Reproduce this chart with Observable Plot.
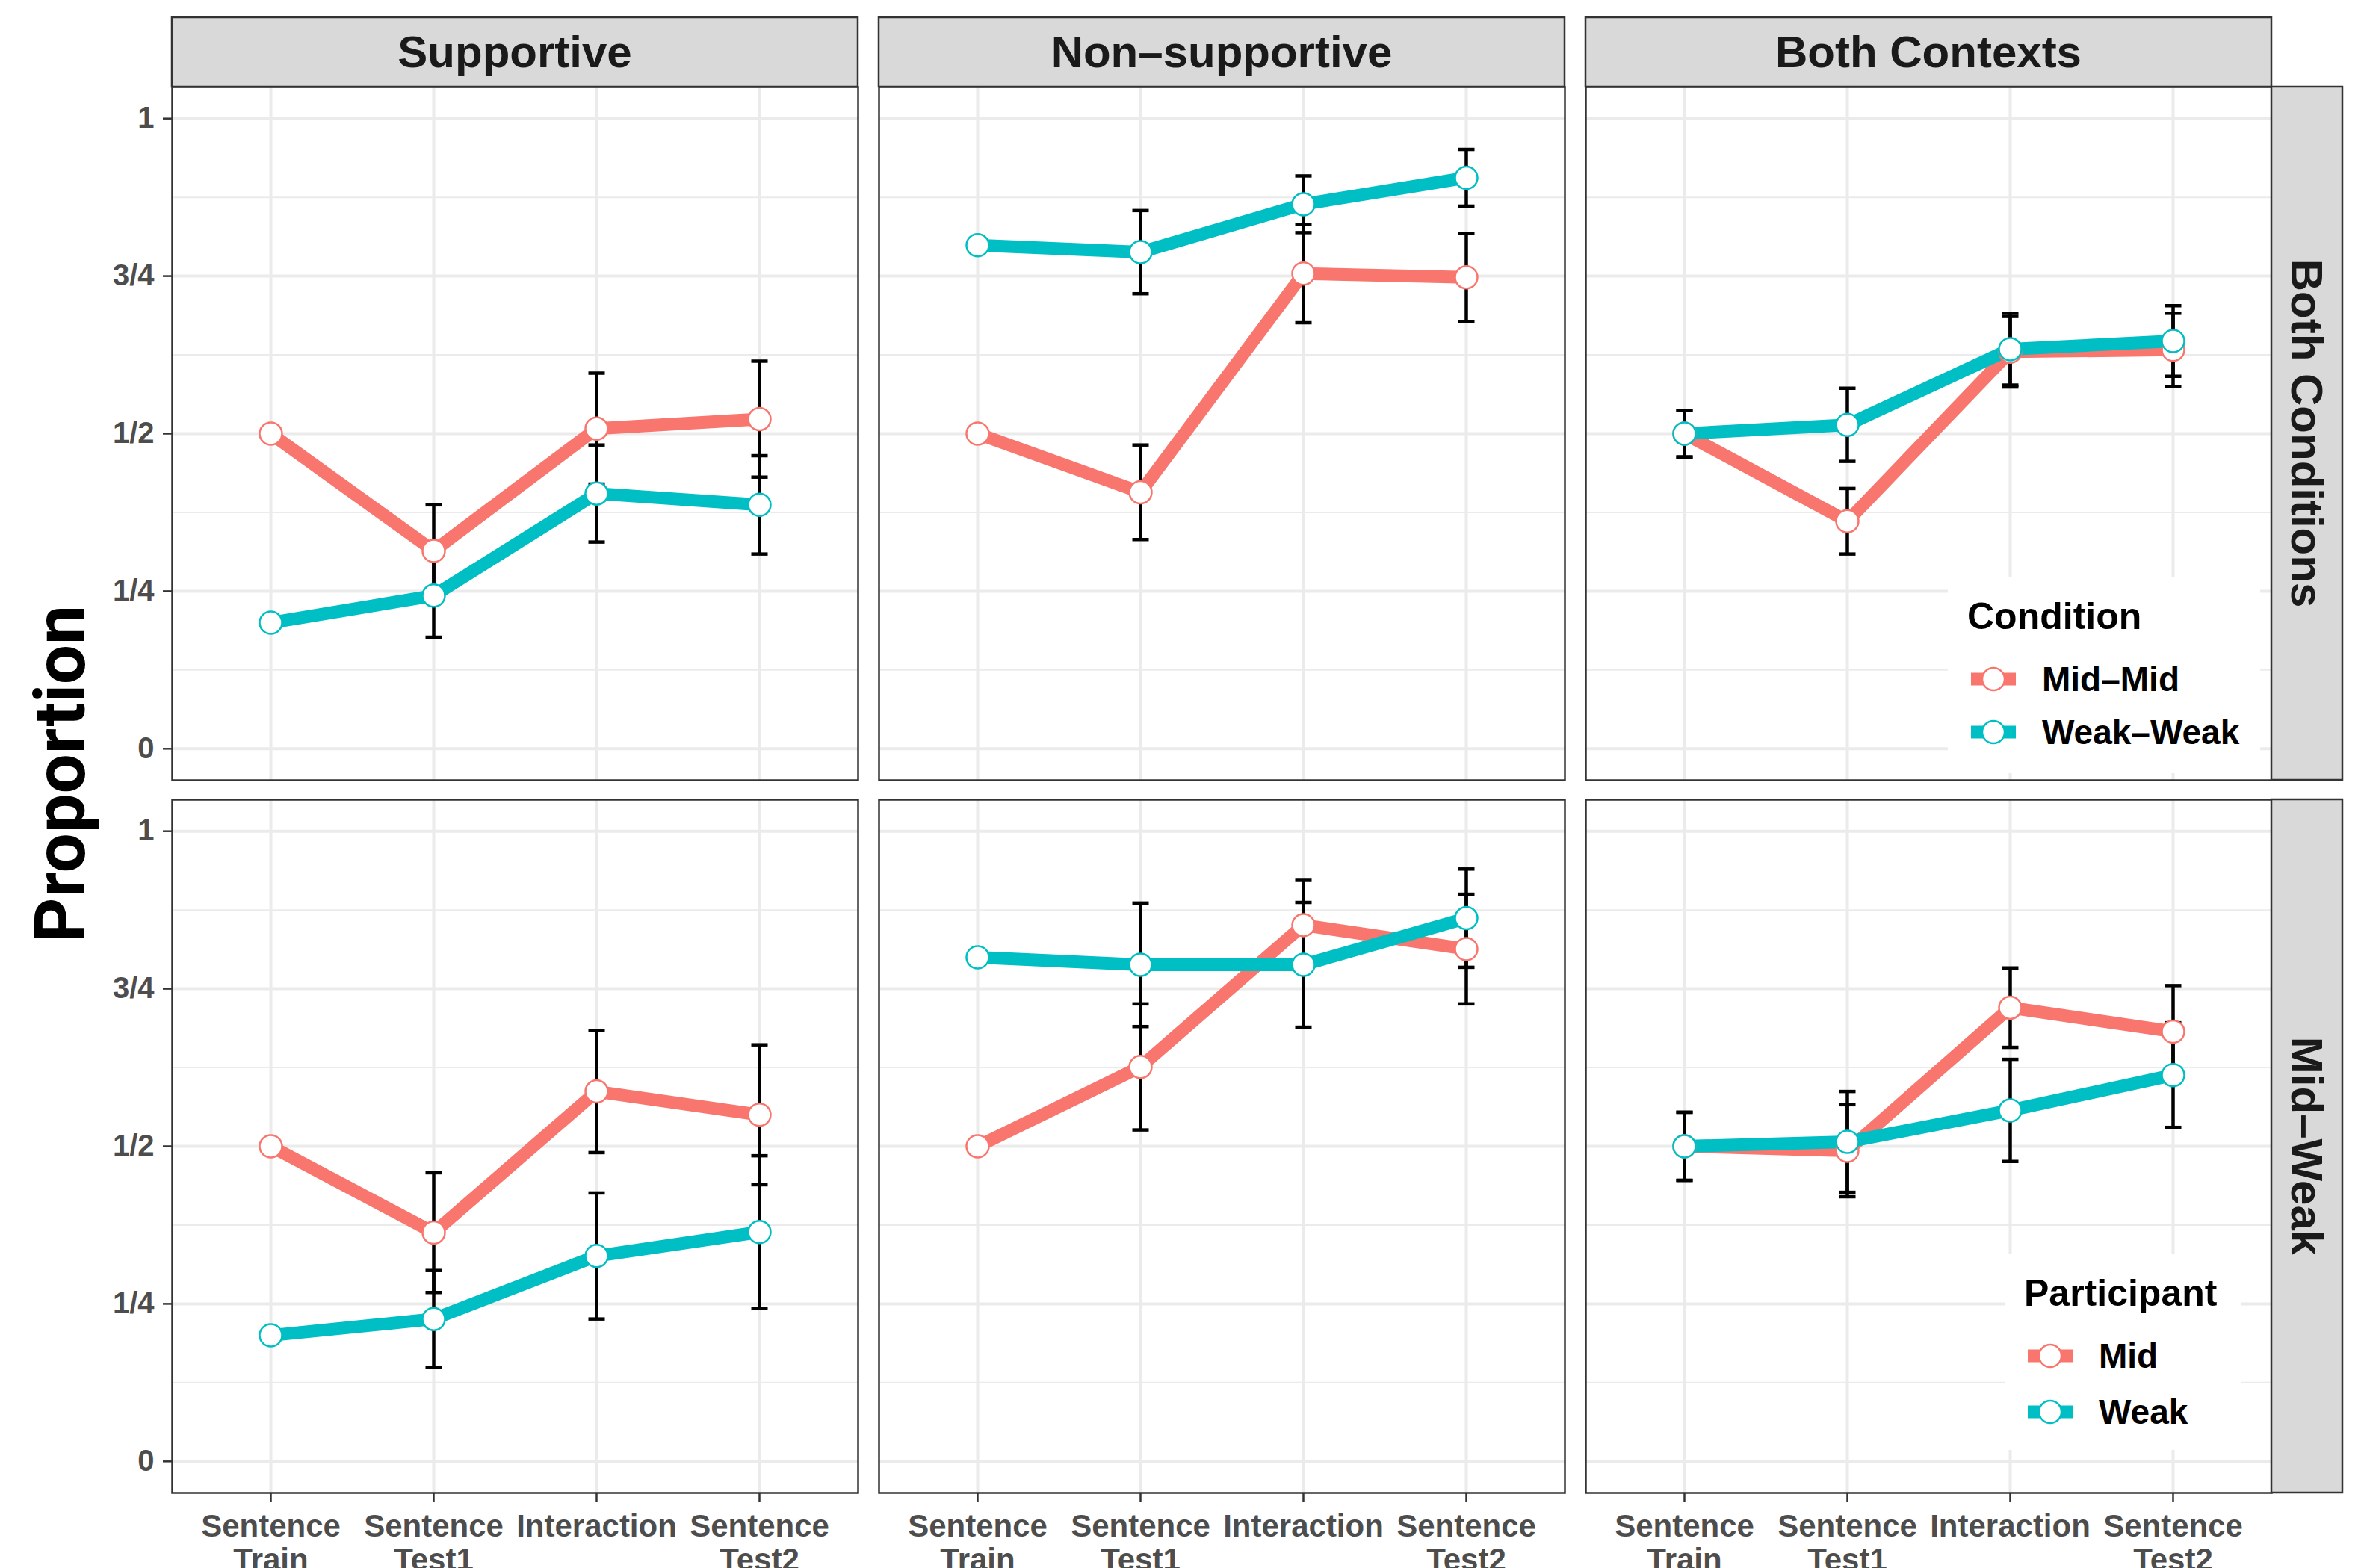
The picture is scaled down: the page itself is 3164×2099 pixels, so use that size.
<!DOCTYPE html>
<html>
<head>
<meta charset="utf-8">
<script src="https://cdn.jsdelivr.net/npm/d3@7"></script>
<script src="https://cdn.jsdelivr.net/npm/@observablehq/plot@0.6"></script>
<style>
  html, body { margin: 0; padding: 0; background: #fff; }
  svg { display: block; }
</style>
</head>
<body>
<div id="chart"></div>
<script>
// ---------- categories, labels ----------
const categories = ["Sentence Train", "Sentence Test1", "Interaction", "Sentence Test2"];
const categoryLabels = ["Sentence\nTrain", "Sentence\nTest1", "Interaction", "Sentence\nTest2"];
const contexts = ["Supportive", "Non–supportive", "Both Contexts"];
const rows = ["Both Conditions", "Mid–Weak"];
const conditionSeries = ["Mid–Mid", "Weak–Weak"];
const participantSeries = ["Mid", "Weak"];
const yTickValues = [0, 0.25, 0.5, 0.75, 1];
const yTickLabels = ["0", "1/4", "1/2", "3/4", "1"];
const yMinorTicks = [0.125, 0.375, 0.625, 0.875];
const seriesColors = ["#F8766D", "#00BFC4"];

// ---------- values (row "Both Conditions") ----------
const bothCond_supportive_midMid = [0.5, 0.314, 0.508, 0.523];
const bothCond_supportive_midMid_err = [null, 0.073, 0.088, 0.092];
const bothCond_supportive_weakWeak = [0.2, 0.243, 0.405, 0.387];
const bothCond_supportive_weakWeak_err = [null, 0.066, 0.077, 0.078];

const bothCond_nonSupportive_midMid = [0.5, 0.407, 0.754, 0.748];
const bothCond_nonSupportive_midMid_err = [null, 0.075, 0.078, 0.070];
const bothCond_nonSupportive_weakWeak = [0.799, 0.788, 0.864, 0.906];
const bothCond_nonSupportive_weakWeak_err = [null, 0.066, 0.045, 0.045];

const bothCond_bothContexts_midMid = [0.5, 0.361, 0.630, 0.633];
const bothCond_bothContexts_midMid_err = [0.037, 0.052, 0.056, 0.058];
const bothCond_bothContexts_weakWeak = [0.5, 0.514, 0.634, 0.647];
const bothCond_bothContexts_weakWeak_err = [0.037, 0.058, 0.057, 0.056];

// ---------- values (row "Mid–Weak") ----------
const midWeak_supportive_mid = [0.5, 0.363, 0.587, 0.550];
const midWeak_supportive_mid_err = [null, 0.095, 0.097, 0.111];
const midWeak_supportive_weak = [0.2, 0.226, 0.326, 0.364];
const midWeak_supportive_weak_err = [null, 0.077, 0.100, 0.121];

const midWeak_nonSupportive_mid = [0.5, 0.626, 0.851, 0.813];
const midWeak_nonSupportive_mid_err = [null, 0.100, 0.071, 0.087];
const midWeak_nonSupportive_weak = [0.8, 0.788, 0.788, 0.862];
const midWeak_nonSupportive_weak_err = [null, 0.098, 0.099, 0.078];

const midWeak_bothContexts_mid = [0.5, 0.493, 0.720, 0.682];
const midWeak_bothContexts_mid_err = [0.054, 0.073, 0.063, 0.073];
const midWeak_bothContexts_weak = [0.5, 0.507, 0.557, 0.613];
const midWeak_bothContexts_weak_err = [0.054, 0.080, 0.081, 0.083];

// ---------- assemble table ----------
const panels = [
  [rows[0], contexts[0], conditionSeries[0], bothCond_supportive_midMid, bothCond_supportive_midMid_err],
  [rows[0], contexts[0], conditionSeries[1], bothCond_supportive_weakWeak, bothCond_supportive_weakWeak_err],
  [rows[0], contexts[1], conditionSeries[0], bothCond_nonSupportive_midMid, bothCond_nonSupportive_midMid_err],
  [rows[0], contexts[1], conditionSeries[1], bothCond_nonSupportive_weakWeak, bothCond_nonSupportive_weakWeak_err],
  [rows[0], contexts[2], conditionSeries[0], bothCond_bothContexts_midMid, bothCond_bothContexts_midMid_err],
  [rows[0], contexts[2], conditionSeries[1], bothCond_bothContexts_weakWeak, bothCond_bothContexts_weakWeak_err],
  [rows[1], contexts[0], participantSeries[0], midWeak_supportive_mid, midWeak_supportive_mid_err],
  [rows[1], contexts[0], participantSeries[1], midWeak_supportive_weak, midWeak_supportive_weak_err],
  [rows[1], contexts[1], participantSeries[0], midWeak_nonSupportive_mid, midWeak_nonSupportive_mid_err],
  [rows[1], contexts[1], participantSeries[1], midWeak_nonSupportive_weak, midWeak_nonSupportive_weak_err],
  [rows[1], contexts[2], participantSeries[0], midWeak_bothContexts_mid, midWeak_bothContexts_mid_err],
  [rows[1], contexts[2], participantSeries[1], midWeak_bothContexts_weak, midWeak_bothContexts_weak_err]
];

const data = [];
for (const [row, context, series, values, errs] of panels) {
  values.forEach((v, i) => {
    data.push({row, context, series, cat: categories[i], value: v, err: errs[i]});
  });
}
const errData = data.filter(d => d.err != null).map(d => ({...d, lo: d.value - d.err, hi: d.value + d.err}));

const capSymbol = { draw(ctx) { ctx.moveTo(-11, 0); ctx.lineTo(11, 0); } };

const FONT = "'Liberation Sans', Arial, Helvetica, sans-serif";
const grid = "#ebebeb";

const chart = Plot.plot({
  width: 3164,
  height: 2099,
  marginTop: 116,
  marginRight: 124,
  marginBottom: 101,
  marginLeft: 230,
  style: { fontFamily: FONT, background: "white", overflow: "hidden" },
  fx: { domain: contexts, axis: null, paddingInner: 28 / 946, paddingOuter: 0 },
  fy: { domain: rows, axis: null, paddingInner: 26 / 954, paddingOuter: 0 },
  x: { domain: categories, type: "point", padding: 0.6 },
  y: { domain: [-0.05, 1.05] },
  color: { domain: [...conditionSeries, ...participantSeries], range: [...seriesColors, ...seriesColors] },
  marks: [
    Plot.gridY(yMinorTicks, { stroke: grid, strokeOpacity: 1, strokeWidth: 2 }),
    Plot.gridY(yTickValues, { stroke: grid, strokeOpacity: 1, strokeWidth: 4 }),
    Plot.gridX(categories, { stroke: grid, strokeOpacity: 1, strokeWidth: 4 }),
    Plot.line(data, { fx: "context", fy: "row", x: "cat", y: "value", z: "series", stroke: "series", strokeWidth: 17, strokeLinejoin: "round" }),
    Plot.ruleX(errData, { fx: "context", fy: "row", x: "cat", y1: "lo", y2: "hi", stroke: "black", strokeWidth: 4.5 }),
    Plot.dot(errData, { fx: "context", fy: "row", x: "cat", y: "lo", symbol: capSymbol, fill: "none", stroke: "black", strokeWidth: 4.5 }),
    Plot.dot(errData, { fx: "context", fy: "row", x: "cat", y: "hi", symbol: capSymbol, fill: "none", stroke: "black", strokeWidth: 4.5 }),
    Plot.dot(data, { fx: "context", fy: "row", x: "cat", y: "value", r: 15, fill: "white", stroke: "series", strokeWidth: 2.5 }),
    Plot.frame({ stroke: "#333333", strokeWidth: 2.5 }),
    Plot.axisY(yTickValues, {
      anchor: "left", facetAnchor: "left", label: null,
      tickSize: 12, tickPadding: 12,
      tickFormat: d => yTickLabels[yTickValues.indexOf(d)],
      fontSize: 40, fontWeight: "bold",
      stroke: "#333333", strokeWidth: 2.5, fill: "#4d4d4d"
    }),
    Plot.axisX(categories, {
      anchor: "bottom", facetAnchor: "bottom", label: null,
      tickSize: 12, tickPadding: 15,
      tickFormat: d => categoryLabels[categories.indexOf(d)],
      fontSize: 42, fontWeight: "bold", lineHeight: 1.07,
      stroke: "#333333", strokeWidth: 2.5, fill: "#4d4d4d"
    })
  ]
});

document.getElementById("chart").appendChild(chart);

// ---------- strips, legends, axis title ----------
const svg = d3.select(chart);
function bandOf(name, domain, range, pi) {
  let s = null;
  try { s = chart.scale(name); } catch (e) { s = null; }
  if (s && s.apply && s.bandwidth != null) return { at: v => s.apply(v), bw: s.bandwidth };
  const b = d3.scaleBand(domain, range).paddingInner(pi).paddingOuter(0);
  return { at: v => b(v), bw: b.bandwidth() };
}
const FX = bandOf("fx", contexts, [230, 3040], 28 / 946);
const FY = bandOf("fy", rows, [116, 1998], 26 / 954);
const colorScale = chart.scale("color");
const colorOf = v => colorScale.apply(v);

const stripH = 93;
const stripW = 95;
const stripFill = "#d9d9d9";
const stripStroke = "#333333";

const overlay = svg.append("g").attr("font-family", FONT).attr("text-anchor", "start");

// top strips
contexts.forEach(c => {
  const x0 = FX.at(c), top = FY.at(rows[0]);
  overlay.append("rect")
    .attr("x", x0).attr("y", top - stripH).attr("width", FX.bw).attr("height", stripH)
    .attr("fill", stripFill).attr("stroke", stripStroke).attr("stroke-width", 2.5);
  overlay.append("text")
    .attr("x", x0 + FX.bw / 2).attr("y", top - stripH / 2)
    .attr("text-anchor", "middle").attr("dominant-baseline", "central")
    .attr("font-size", 60).attr("font-weight", "bold").attr("fill", "#1a1a1a")
    .text(c);
});
// right strips
const rightEdge = FX.at(contexts[contexts.length - 1]) + FX.bw;
rows.forEach(r => {
  const y0 = FY.at(r);
  overlay.append("rect")
    .attr("x", rightEdge).attr("y", y0).attr("width", stripW).attr("height", FY.bw)
    .attr("fill", stripFill).attr("stroke", stripStroke).attr("stroke-width", 2.5);
  overlay.append("text")
    .attr("transform", `translate(${rightEdge + stripW / 2},${y0 + FY.bw / 2}) rotate(90)`)
    .attr("text-anchor", "middle").attr("dominant-baseline", "central")
    .attr("font-size", 60).attr("font-weight", "bold").attr("fill", "#1a1a1a")
    .text(r);
});

// legends
function drawLegend(title, labels, left, top, width, height, spacing) {
  const g = overlay.append("g").attr("text-anchor", "start");
  g.append("rect").attr("x", left).attr("y", top).attr("width", width).attr("height", height).attr("fill", "white");
  g.append("text").attr("x", left + 26).attr("y", top + 70).attr("text-anchor", "start")
    .attr("font-size", 50).attr("font-weight", "bold").attr("fill", "black").text(title);
  labels.forEach((lab, i) => {
    const cy = top + 137 + i * spacing;
    const col = colorOf(lab);
    g.append("line").attr("x1", left + 31).attr("x2", left + 91).attr("y1", cy).attr("y2", cy)
      .attr("stroke", col).attr("stroke-width", 17);
    g.append("circle").attr("cx", left + 61).attr("cy", cy).attr("r", 15)
      .attr("fill", "white").attr("stroke", col).attr("stroke-width", 2.5);
    g.append("text").attr("x", left + 126).attr("y", cy).attr("text-anchor", "start")
      .attr("dominant-baseline", "central")
      .attr("font-size", 46).attr("font-weight", "bold").attr("fill", "black").text(lab);
  });
}
const topBottom = FY.at(rows[0]) + FY.bw;
const botBottom = FY.at(rows[1]) + FY.bw;
drawLegend("Condition", conditionSeries, rightEdge - 433, topBottom - 272, 418, 263, 71);
drawLegend("Participant", participantSeries, rightEdge - 357, botBottom - 320, 317, 263, 75);

// y axis title
overlay.append("text")
  .attr("transform", `translate(113,1036) rotate(-90)`)
  .attr("text-anchor", "middle")
  .attr("font-family", "Roboto, 'Liberation Sans', sans-serif")
  .attr("font-size", 94).attr("font-weight", "bold").attr("fill", "black")
  .text("Proportion");
</script>
</body>
</html>
